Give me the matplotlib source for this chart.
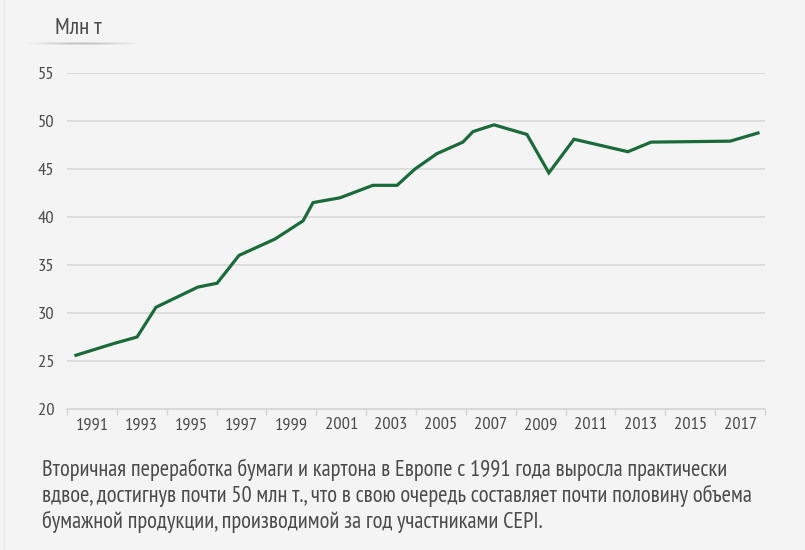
import numpy as np
import matplotlib.pyplot as plt
from matplotlib import font_manager

# data (x in years, y in mln t)
years = [1990.36, 1991.85, 1992.81, 1993.57, 1995.25, 1996.02, 1996.90, 1998.34,
         1999.47, 1999.87, 2000.95, 2002.27, 2003.24, 2003.96, 2004.84, 2005.88,
         2006.29, 2007.13, 2008.45, 2009.33, 2010.34, 2012.50, 2013.43, 2016.60,
         2017.72]
recycled = [25.6, 26.8, 27.5, 30.6, 32.7, 33.1, 36.0, 37.7,
            39.6, 41.5, 42.0, 43.3, 43.3, 45.0, 46.6, 47.8,
            48.9, 49.6, 48.6, 44.6, 48.1, 46.8, 47.8, 47.9,
            48.75]
tick_years = list(range(1990, 2019, 2))
label_years = list(range(1991, 2018, 2))
y_ticks = [20, 25, 30, 35, 40, 45, 50, 55]

unit = 'Млн т'
caption = ('Вторичная переработка бумаги и картона в Европе с 1991 года выросла практически\n'
           'вдвое, достигнув почти 50 млн т., что в свою очередь составляет почти половину объема\n'
           'бумажной продукции, производимой за год участниками CEPI.')

# condensed font if there is one, else DejaVu
names = {f.name for f in font_manager.fontManager.ttflist}
cands = ['PT Sans Narrow', 'Fira Sans Condensed', 'Roboto Condensed', 'Ubuntu Condensed',
         'IBM Plex Sans Condensed', 'Open Sans Condensed', 'Liberation Sans Narrow',
         'Encode Sans Condensed', 'Archivo Narrow']
fam = [c for c in cands if c in names][:1] + ['DejaVu Sans']
plt.rcParams['font.family'] = fam

bg = '#f4f4f4'
txt = '#4a4a4a'
W, H = 805, 550

fig = plt.figure(figsize=(8.05, 5.5), dpi=100, facecolor=bg)
ax = fig.add_axes([67 / W, 1 - 409 / H, (765 - 67) / W, (409 - 73) / H])
ax.set_facecolor(bg)
renderer = fig.canvas.get_renderer()


def fit(t, width_px):
    # shrink/grow a text so that it is as wide as in the reference
    w = t.get_window_extent(renderer).width
    t.set_fontsize(t.get_fontsize() * width_px / w)
    return t.get_fontsize()


probe = fig.text(0, 0, '1991', fontsize=13)
tick_fs = min(max(fit(probe, 33), 11.5), 13.5)
probe.remove()

ax.set_xlim(1990, 2018)
ax.set_ylim(20, 55)
for v in y_ticks[1:]:
    ax.axhline(v, color='#d9d9d9', lw=1.2, zorder=1)

ax.plot(years, recycled, color='#1b6a3a', lw=2.3, solid_joinstyle='miter', zorder=3)

for s in ['top', 'right', 'left']:
    ax.spines[s].set_visible(False)
ax.spines['bottom'].set_color('#d4d4d4')
ax.spines['bottom'].set_linewidth(1.2)

ax.set_xticks(tick_years)
ax.set_xticklabels([])
ax.set_xticks(label_years, minor=True)
ax.set_xticklabels([str(y) for y in label_years], minor=True)
ax.tick_params(axis='x', which='major', length=4, color='#d4d4d4', width=1)
ax.tick_params(axis='x', which='minor', length=0, labelsize=tick_fs, labelcolor=txt, pad=6)
ax.set_yticks(y_ticks)
ax.set_yticklabels([str(v) for v in y_ticks])
ax.tick_params(axis='y', length=0, labelsize=tick_fs, labelcolor=txt, pad=9)

# unit label with a soft shadow line under it
u = fig.text(55 / W, 1 - 28 / H, unit, fontsize=15, color=txt, va='center', ha='left')
fit(u, 47)
sh = fig.add_axes([12 / W, 1 - 48 / H, 140 / W, 9 / H])
gx = np.linspace(-1, 1, 200)
gy = np.linspace(-1, 1, 20)
prof = np.exp(-(gy[:, None] / 0.4) ** 2) * np.clip(1 - np.abs(gx[None, :]) ** 2, 0, 1)
sh.imshow(prof, cmap='Greys', vmin=0, vmax=2.6, aspect='auto', alpha=prof.clip(0, 1))
sh.axis('off')

fig.add_artist(plt.Line2D([4 / W, 4 / W], [0, 1], transform=fig.transFigure, color='#e6e6e6', lw=1))

cap = fig.text(42 / W, 1 - 459 / H, caption, fontsize=14, color=txt, va='top', ha='left',
               linespacing=1.2)
fit(cap, 713)

fig.savefig('out.png', dpi=100, facecolor=bg)
